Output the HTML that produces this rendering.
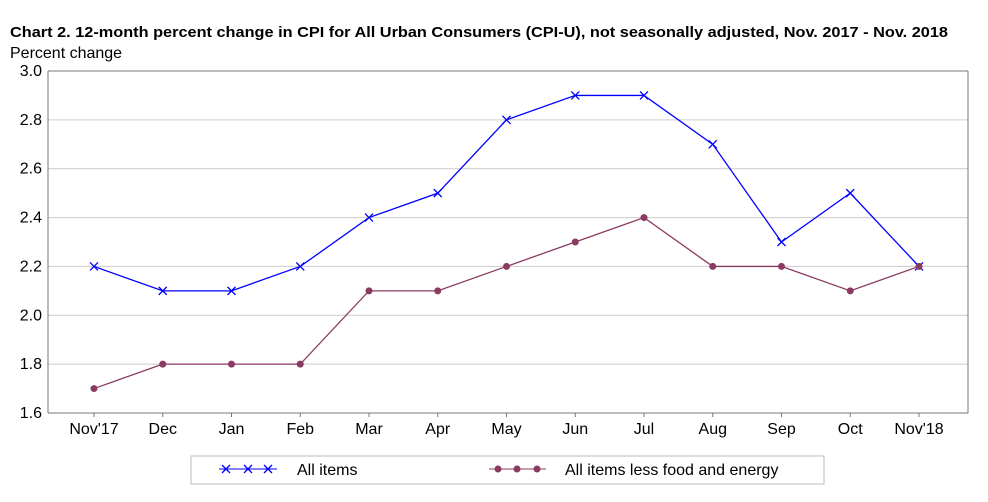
<!DOCTYPE html>
<html><head><meta charset="utf-8"><style>
body{margin:0;background:#fff;font-family:"Liberation Sans",sans-serif}
</style></head><body>
<svg width="988" height="497" xmlns="http://www.w3.org/2000/svg" font-family="Liberation Sans, sans-serif">
<text x="10" y="37" font-size="15" font-weight="bold" textLength="938" lengthAdjust="spacingAndGlyphs">Chart 2. 12-month percent change in CPI for All Urban Consumers (CPI-U), not seasonally adjusted, Nov. 2017 - Nov. 2018</text>
<text x="10" y="58" font-size="16">Percent change</text>
<g id="grid"></g><g id="axes"></g><g id="series"></g>
<rect x="191" y="456" width="633" height="28" fill="none" stroke="#bbb"/>
<g>
<line x1="219" y1="469" x2="277" y2="469" stroke="#0000ff"/>
<path d="M222,465L230,473M222,473L230,465M244,465L252,473M244,473L252,465M264,465L272,473M264,473L272,465" stroke="#0000ff" stroke-width="1.3"/>
<text x="297" y="475" font-size="16">All items</text></g>
<g>
<line x1="489" y1="469" x2="546" y2="469" stroke="#8b3a62"/>
<circle cx="498" cy="469" r="3.5" fill="#8b3a62"/><circle cx="517" cy="469" r="3.5" fill="#8b3a62"/><circle cx="537" cy="469" r="3.5" fill="#8b3a62"/>
<text x="565" y="475" font-size="16">All items less food and energy</text></g>
</svg>
<script>
const categories=["Nov'17","Dec","Jan","Feb","Mar","Apr","May","Jun","Jul","Aug","Sep","Oct","Nov'18"];
const allItems=[2.2,2.1,2.1,2.2,2.4,2.5,2.8,2.9,2.9,2.7,2.3,2.5,2.2];
const core=[1.7,1.8,1.8,1.8,2.1,2.1,2.2,2.3,2.4,2.2,2.2,2.1,2.2];
const yTicks=[1.6,1.8,2.0,2.2,2.4,2.6,2.8,3.0];
const NS="http://www.w3.org/2000/svg";
const L=48,R=968,T=71,B=413,yMin=1.6,yMax=3.0;
const x=i=>94+i*(919-94)/(categories.length-1);
const y=v=>B-(v-yMin)/(yMax-yMin)*(B-T);
function mk(tag,at,parent){const e=document.createElementNS(NS,tag);for(const k in at)e.setAttribute(k,at[k]);document.getElementById(parent).appendChild(e);return e;}
yTicks.forEach(v=>{
 const g=mk('line',{x1:L,x2:R,y1:y(v),y2:y(v),stroke:(v===yMin||v===yMax)?'#777':'#ccc'},'grid');
 
 
 const t=mk('text',{x:L-6,y:y(v)+5,'font-size':16,'text-anchor':'end'},'axes');t.textContent=v.toFixed(1);
 
 
});
const lft=mk('line',{x1:L,x2:L,y1:T,y2:B,stroke:'#777'},'axes');


const rgt=mk('line',{x1:R,x2:R,y1:T,y2:B,stroke:'#777'},'axes');


categories.forEach((c,i)=>{
 const tk=mk('line',{x1:x(i),x2:x(i),y1:B,y2:B+4,stroke:'#777'},'axes');
 
 
 const t=mk('text',{x:x(i),y:B+21,'font-size':16,'text-anchor':'middle'},'axes');t.textContent=c;
 
 
});
function line(vals,col,name){
 const p=mk('polyline',{points:vals.map((v,i)=>x(i)+','+y(v)).join(' '),fill:'none',stroke:col,'stroke-width':1.3},'series');
 
 
}
line(allItems,'#0000ff','all-items-line');
line(core,'#8b3a62','core-line');
allItems.forEach((v,i)=>{
 const m=mk('path',{d:`M${x(i)-4},${y(v)-4}L${x(i)+4},${y(v)+4}M${x(i)-4},${y(v)+4}L${x(i)+4},${y(v)-4}`,stroke:'#0000ff','stroke-width':1.3},'series');
 
 
});
core.forEach((v,i)=>{
 const m=mk('circle',{cx:x(i),cy:y(v),r:3.5,fill:'#8b3a62'},'series');
 
 
});
</script>
</body></html>
